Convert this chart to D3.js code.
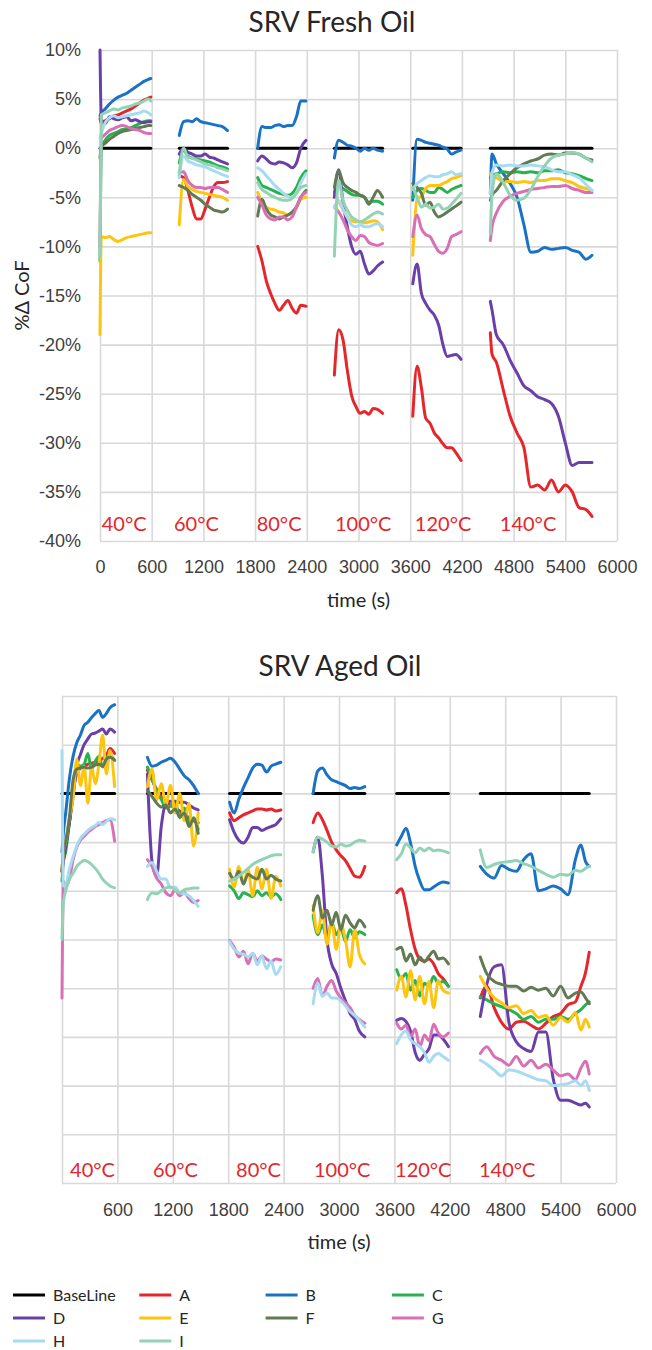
<!DOCTYPE html>
<head>
<meta charset="utf-8">
<style>
  body { margin: 0; background: #fff; }
  svg { display: block; font-family: Lato, "Open Sans", sans-serif; }
  .grid line { stroke: #d9d9d9; stroke-width: 1.6; }
  .grid text { fill: #404040; font-size: 18px; }
  .title { fill: #262626; font-size: 28px; }
  .axis-title { fill: #262626; font-size: 20px; }
  .temp { fill: #e3262b; font-size: 20px; }
  .legend text { fill: #262626; font-size: 16px; }
  .series { fill: none; stroke-width: 3; stroke-linejoin: round; stroke-linecap: round; }
</style>
</head>
<body>
<svg width="652" height="1350"></svg>
<script src="https://cdn.jsdelivr.net/npm/d3@7"></script>
<script>
// ---- data ----
const seriesNames = ['A', 'B', 'C', 'D', 'E', 'F', 'G', 'H', 'I'];
const seriesColors = ['#e5262b', '#1a72c5', '#27b24f', '#6b3fa8', '#fdc510', '#627a52', '#d970b5', '#a6dbf2', '#93d3b5'];
const baselineValue = 0;
const tempLabels = ['40°C', '60°C', '80°C', '100°C', '120°C', '140°C'];
const xTicks = [0, 600, 1200, 1800, 2400, 3000, 3600, 4200, 4800, 5400, 6000];
const yTicks = [10, 5, 0, -5, -10, -15, -20, -25, -30, -35, -40];

// fresh oil: sample times (s) per temperature step
const freshTimes = [
  [0, 15, 60, 110, 160, 210, 260, 310, 360, 410, 460, 510, 560, 590],
  [920, 970, 1020, 1070, 1120, 1170, 1220, 1270, 1320, 1370, 1420, 1480],
  [1830, 1880, 1930, 1980, 2030, 2080, 2130, 2180, 2230, 2280, 2330, 2390],
  [2720, 2770, 2820, 2870, 2920, 2970, 3020, 3070, 3120, 3170, 3220, 3280],
  [3630, 3680, 3730, 3780, 3830, 3880, 3930, 3980, 4030, 4080, 4130, 4190],
  [4530, 4550, 4600, 4680, 4760, 4840, 4920, 5000, 5080, 5160, 5240, 5320, 5400, 5480, 5560, 5640, 5710]
];
const freshTempAt = [20, 859, 1818, 2727, 3654, 4640];

const freshA = [
  [3.0, 2.5, 2.8, 3.0, 3.3, 3.4, 3.6, 3.8, 4.0, 4.3, 4.6, 4.9, 5.1, 5.2],
  [-2.8, -3.0, -4.3, -6.0, -7.2, -7.2, -6.2, -5.0, -3.9, -3.5, -3.5, -3.4],
  [-10.0, -11.5, -13.5, -14.8, -15.8, -16.5, -16.0, -15.5, -16.3, -16.8, -16.0, -16.1],
  [-23.1, -18.5, -19.5, -22.6, -25.2, -26.3, -27.0, -26.8, -27.1, -26.5, -26.6, -27.0],
  [-27.3, -22.2, -24.4, -27.5, -28.0, -29.0, -29.5, -30.1, -30.5, -30.5, -31.0, -31.8],
  [-18.8, -21.0, -21.8, -24.6, -27.3, -29.0, -30.5, -34.5, -34.3, -34.8, -33.8, -35.0, -34.3, -35.0, -36.6, -36.8, -37.5]
];
const freshB = [
  [3.3, 3.6, 4.0, 4.5, 4.9, 5.2, 5.4, 5.6, 5.9, 6.2, 6.5, 6.8, 7.0, 7.1],
  [1.3, 2.7, 2.8, 2.7, 3.0, 2.7, 2.6, 2.5, 2.4, 2.3, 2.2, 1.8],
  [0, 2.2, 2.1, 2.1, 2.3, 2.4, 2.2, 2.3, 2.3, 3.2, 4.8, 4.8],
  [-1.0, 0.8, 0.6, 0.3, 0.2, 0, -0.3, 0, -0.2, 0, -0.2, -0.3],
  [-5.3, 0.9, 0.8, 0.6, 0.5, 0.4, 0.3, 0.1, -0.1, -0.6, -0.4, -0.2],
  [-4.6, -0.6, -1.6, -2.6, -3.6, -5.0, -7.8, -10.6, -10.5, -10.1, -10.3, -10.2, -10.1, -10.4, -10.6, -11.3, -10.9]
];
const freshC = [
  [-11.5, 0, 0.8, 1.3, 1.5, 1.7, 1.9, 2.0, 2.1, 2.3, 2.5, 2.7, 2.8, 2.8],
  [-1.5, -0.2, -0.8, -1.0, -1.1, -1.2, -1.3, -1.4, -1.6, -1.8, -1.9, -2.1],
  [-3.0, -3.8, -4.0, -4.2, -4.4, -4.6, -4.7, -4.8, -4.6, -4.0, -3.0, -2.3],
  [-4.5, -3.8, -4.1, -4.4, -4.7, -4.8, -4.8, -5.0, -5.5, -5.4, -5.4, -5.7],
  [-5.0, -4.3, -4.1, -4.3, -4.5, -4.5, -4.0, -4.2, -4.5, -4.2, -4.0, -3.8],
  [-3.0, -2.8, -2.6, -2.4, -2.5, -2.4, -2.5, -2.4, -2.5, -2.3, -2.3, -2.2, -2.5, -2.6, -2.8, -3.1, -3.3]
];
const freshD = [
  [10, 3.0, 2.5, 3.2, 3.0, 2.9, 3.1, 3.2, 2.8, 2.9, 2.7, 2.6, 2.7, 2.7],
  [-0.6, 0, -0.4, -0.6, -0.8, -0.8, -0.6, -0.9, -1.0, -1.2, -1.4, -1.6],
  [-1.3, -0.8, -1.1, -1.5, -1.6, -1.4, -1.5, -1.7, -2.0, -1.5, 0, 0.8],
  [-5.0, -2.2, -5.5, -8.0, -10.0, -10.8, -10.5, -11.8, -12.8, -12.5, -12.0, -11.6],
  [-13.8, -11.8, -14.8, -15.8, -16.5, -17.0, -18.0, -20.0, -21.2, -21.1, -21.0, -21.5],
  [-15.6, -16.5, -19.0, -20.0, -21.6, -22.9, -24.2, -24.7, -25.3, -25.6, -26.0, -27.3, -30.0, -32.3, -32.0, -32.0, -32.0]
];
const freshE = [
  [-19, -9.0, -9.1, -9.0, -9.3, -9.5, -9.3, -9.1, -9.0, -8.9, -8.8, -8.7, -8.6, -8.6],
  [-7.8, -3.2, -3.9, -4.2, -4.4, -4.5, -4.6, -4.7, -4.8, -4.9, -5.0, -5.3],
  [-4.5, -5.5, -6.0, -6.2, -6.3, -6.5, -6.6, -6.8, -6.6, -6.0, -5.2, -5.0],
  [-6.0, -5.5, -6.3, -7.0, -7.4, -7.5, -7.5, -7.6, -7.5, -7.4, -7.5, -8.3],
  [-10.9, -5.1, -4.9, -4.1, -3.8, -3.8, -3.8, -3.6, -3.4, -3.1, -3.0, -2.8],
  [-2.6, -2.8, -3.0, -3.4, -3.4, -3.5, -3.4, -3.5, -3.3, -3.3, -3.1, -3.1, -3.3, -3.5, -3.9, -4.1, -4.3]
];
const freshF = [
  [-1, 0.2, 0.5, 0.9, 1.2, 1.5, 1.7, 1.8, 1.9, 2.0, 2.1, 2.2, 2.3, 2.3],
  [-3.8, -4.0, -4.3, -4.7, -5.0, -5.3, -5.7, -6.0, -6.3, -6.4, -6.5, -6.2],
  [-6.9, -5.2, -6.2, -6.8, -7.0, -7.2, -7.0, -6.8, -6.5, -6.0, -5.0, -4.3],
  [-4.0, -2.3, -3.5, -4.0, -4.3, -4.5, -4.8, -5.0, -5.7, -5.0, -4.3, -5.0],
  [-3.6, -4.0, -4.6, -5.8, -5.5, -6.5, -7.0, -6.8, -6.5, -6.2, -5.9, -5.5],
  [-5.3, -4.8, -4.3, -3.3, -2.6, -2.0, -1.6, -1.3, -1.1, -0.7, -0.6, -0.7, -0.5, -0.5, -0.6, -1.0, -1.2]
];
const freshG = [
  [-10, 1.0, 1.4, 1.8, 2.0, 2.2, 2.3, 2.2, 2.0, 1.9, 1.8, 1.6, 1.5, 1.5],
  [-2.5, -2.4, -3.3, -3.8, -4.0, -4.0, -4.1, -4.0, -4.0, -4.0, -4.2, -4.5],
  [-5.0, -5.8, -6.8, -7.2, -7.3, -7.0, -7.0, -7.3, -7.0, -6.0, -5.0, -4.5],
  [-6.0, -6.5, -7.3, -8.3, -9.0, -9.4, -8.9, -9.0, -9.6, -9.8, -9.9, -9.7],
  [-9.0, -6.8, -8.2, -8.8, -9.0, -9.8, -10.5, -10.7, -10.2, -9.0, -8.8, -8.5],
  [-9.4, -8.0, -6.6, -5.4, -4.9, -4.6, -4.4, -4.2, -4.1, -4.0, -3.9, -3.9, -3.8, -4.1, -4.3, -4.5, -4.5]
];
const freshH = [
  [1, 1.5, 2.6, 3.1, 3.3, 3.1, 3.2, 3.3, 3.4, 3.5, 3.6, 3.8, 3.6, 3.4],
  [-3.0, -0.8, -1.3, -1.5, -1.7, -1.8, -1.9, -2.1, -2.3, -2.5, -2.7, -2.9],
  [-2.0, -2.3, -2.8, -3.3, -3.8, -4.2, -4.6, -4.9, -5.0, -4.5, -3.5, -2.6],
  [-6.0, -5.3, -6.2, -7.0, -7.8, -8.0, -7.8, -8.0, -8.0, -7.8, -7.7, -8.0],
  [-4.2, -3.6, -3.3, -3.0, -2.8, -2.9, -2.9, -2.7, -2.6, -2.4, -2.7, -2.6],
  [-4.6, -2.5, -1.7, -1.8, -1.7, -1.8, -1.8, -1.7, -1.8, -1.9, -2.2, -2.4, -2.4, -2.7, -3.0, -3.7, -4.3]
];
const freshI = [
  [-11, 3.4, 3.6, 3.8, 4.0, 3.9, 4.1, 4.2, 4.3, 4.5, 4.6, 4.8, 5.0, 4.8],
  [-2.6, 0, -0.9, -1.0, -1.2, -1.4, -1.6, -1.7, -1.8, -2.0, -2.1, -2.3],
  [-3.5, -4.2, -4.5, -4.8, -5.0, -5.2, -5.3, -5.3, -5.1, -4.6, -4.0, -3.8],
  [-11.0, -3.3, -5.3, -6.3, -7.0, -7.3, -7.5, -7.3, -7.0, -6.7, -6.5, -6.7],
  [-4.0, -5.0, -6.0, -5.7, -6.1, -6.0, -5.7, -6.2, -6.1, -5.7, -5.2, -4.6],
  [-8.7, -4.6, -2.6, -3.5, -4.8, -5.3, -5.1, -4.2, -2.9, -1.8, -1.0, -0.7, -0.6, -0.4, -0.6, -1.0, -1.4]
];

// aged oil
const agedTimes = [
  [0, 15, 40, 80, 120, 160, 200, 240, 280, 320, 360, 400, 440, 480, 520, 570],
  [925, 975, 1025, 1075, 1125, 1175, 1225, 1275, 1325, 1375, 1425, 1475],
  [1815, 1865, 1915, 1965, 2015, 2065, 2115, 2165, 2215, 2265, 2315, 2370],
  [2720, 2770, 2820, 2870, 2920, 2970, 3020, 3070, 3120, 3170, 3220, 3280],
  [3625, 3675, 3725, 3775, 3825, 3875, 3925, 3975, 4025, 4075, 4125, 4185],
  [4530, 4600, 4680, 4760, 4840, 4920, 5000, 5080, 5160, 5240, 5320, 5400, 5480, 5560, 5620, 5670, 5710]
];
const agedTempAt = [87, 986, 1885, 2729, 3607, 4516];

const agedA = [
  [-8, -6, -5, -3.0, 0.2, 2.0, 2.6, 2.8, 3.0, 3.1, 3.2, 3.3, 3.6, 3.9, 4.6, 4.1],
  [2.4, 1.4, 0.4, -0.3, -0.8, -1.2, -1.5, -1.8, -2.2, -2.5, -2.8, -3.0],
  [-2.0, -2.8, -2.5, -2.2, -2.0, -1.8, -1.6, -1.6, -1.7, -1.6, -1.8, -1.7],
  [-3.0, -2.0, -2.7, -3.8, -5.0, -5.8, -6.4, -6.9, -7.7, -8.5, -8.6, -7.5],
  [-10.2, -9.8, -11.5, -14.0, -16.0, -17.0, -17.2, -17.0, -17.5, -18.5, -19.0, -19.8],
  [-21.0, -19.8, -22.0, -23.5, -24.2, -23.5, -23.4, -23.8, -24.2, -23.6, -22.9, -22.6, -21.7, -21.4, -19.8, -18.4, -16.3]
];
const agedB = [
  [-6, -4, -2.0, 1.5, 3.8, 5.2, 6.0, 7.0, 7.3, 7.8, 8.2, 8.5, 7.8, 8.2, 8.8, 9.1],
  [3.7, 2.8, 2.9, 3.2, 3.4, 3.6, 3.2, 2.5, 1.8, 1.4, 0.8, 0],
  [-0.9, -2.0, -0.6, 0.6, 1.6, 2.6, 3.0, 2.9, 2.2, 2.8, 3.0, 3.2],
  [0, 2.3, 2.6, 1.9, 1.4, 1.2, 1.0, 0.8, 0.5, 0.6, 0.5, 0.7],
  [-5.3, -4.4, -3.6, -5.1, -7.5, -9.0, -9.9, -9.9, -9.6, -9.3, -9.1, -9.2],
  [-7.5, -8.3, -8.7, -7.4, -7.8, -8.0, -6.8, -6.2, -10.0, -9.8, -9.5, -9.8, -10.4, -6.8, -5.3, -7.0, -7.5]
];
const agedC = [
  [-9, -7, -6, -3.0, 0.5, 3.0, 2.8, 3.0, 4.1, 2.5, 3.3, 3.8, 2.7, 3.6, 3.9, 3.4],
  [2.7, 1.5, 0.2, -0.6, -1.5, -1.3, -0.8, -2.5, -1.5, -3.0, -2.5, -3.7],
  [-9.5, -10.0, -10.8, -10.2, -10.4, -10.6, -10.0, -10.5, -10.2, -10.6, -10.3, -10.9],
  [-12.5, -14.5, -13.5, -15.0, -13.2, -14.5, -13.8, -15.2, -14.0, -14.8, -14.2, -14.5],
  [-18.1, -19.0, -18.5, -20.2, -19.2, -20.8, -19.5, -19.8, -18.8, -19.5, -19.3, -19.8],
  [-20.9, -21.2, -21.6, -21.9, -22.2, -22.6, -23.2, -22.9, -23.5, -23.2, -23.2, -22.9, -23.2, -22.6, -22.2, -21.7, -21.4]
];
const agedD = [
  [-8, -7, -5.5, -3.0, -0.3, 2.8, 4.0, 5.0, 5.6, 6.1, 6.2, 6.4, 6.6, 6.1, 6.6, 6.3],
  [2.0, -7.0, -8.5, -3.4, -1.0, -0.8, -0.8, -0.9, -0.9, -1.2, -1.5, -1.7],
  [-2.7, -4.0, -4.8, -5.1, -4.5, -3.5, -3.5, -3.8, -3.6, -3.4, -3.2, -2.6],
  [-6.0, -4.5, -8.5, -15.0, -17.5, -18.5, -20.0, -21.3, -22.6, -23.2, -24.4, -25.0],
  [-23.3, -23.1, -23.4, -24.4, -26.6, -27.4, -26.8, -26.2, -24.8, -24.8, -25.2, -26.0],
  [-22.9, -19.6, -17.8, -17.6, -23.5, -25.5, -26.2, -26.5, -24.5, -24.5, -29.3, -31.5, -31.5, -31.8, -32.0, -31.8, -32.2]
];
const agedE = [
  [-8, -6, -5, -2.5, -0.5, 3.5, 0.8, 2.8, -1.0, 2.8, 1.0, 3.0, 6.0, 2.0, 4.4, 0.7],
  [0.7, 2.5, -0.7, 1.0, -1.2, 0.8, -2.0, 0, -2.8, -1.0, -5.4, -2.0],
  [-7.8, -9.6, -7.5, -9.3, -7.8, -10.5, -7.6, -9.8, -7.8, -10.8, -8.5, -9.5],
  [-11.5, -14.3, -12.0, -15.5, -13.0, -16.0, -13.5, -15.0, -17.8, -14.0, -16.5, -17.5],
  [-20.2, -18.8, -20.9, -18.2, -21.2, -18.8, -21.6, -19.3, -22.0, -19.2, -20.2, -20.5],
  [-18.8, -20.0, -21.0, -21.5, -22.0, -21.8, -22.6, -22.3, -23.0, -22.8, -23.8, -23.0, -23.5, -22.5, -24.3, -23.2, -24.0]
];
const agedF = [
  [-8, -6, -5.0, -2.5, 1.4, 2.5, 2.6, 2.7, 2.6, 2.7, 2.9, 3.0, 2.8, 3.5, 3.7, 3.4],
  [0.3, -0.3, -1.0, -1.4, -1.2, -2.0, -1.6, -2.4, -2.0, -3.4, -2.6, -4.1],
  [-8.2, -8.8, -8.0, -9.3, -8.3, -8.6, -8.8, -7.8, -8.8, -8.4, -8.8, -9.0],
  [-12.0, -10.5, -12.8, -12.0, -13.5, -12.2, -14.0, -12.5, -13.3, -13.8, -13.0, -13.7],
  [-16.0, -15.8, -17.2, -16.5, -17.6, -16.8, -17.3, -16.7, -16.2, -17.0, -16.9, -17.5],
  [-16.8, -18.5, -19.3, -19.6, -19.8, -19.8, -20.3, -19.9, -20.2, -20.0, -20.8, -19.8, -21.0, -20.5, -20.4, -21.0, -21.6]
];
const agedG = [
  [-21, -9, -9.5, -8.8, -6.8, -5.5, -4.8, -4.4, -4.0, -3.7, -3.4, -3.2, -3.0, -2.8, -2.7, -4.9],
  [-6.8, -7.5, -8.7, -9.3, -10.2, -10.5, -9.9, -10.5, -10.2, -10.8, -11.2, -11.0],
  [-15.1, -15.8, -16.8, -16.2, -17.5, -16.4, -17.2, -16.7, -17.0, -17.3, -17.0, -17.1],
  [-20.0, -19.0, -20.8, -19.8, -19.2, -20.3, -21.0, -21.5, -22.0, -22.8, -23.2, -23.6],
  [-23.6, -24.2, -23.8, -25.0, -24.2, -26.0, -24.8, -25.4, -23.7, -24.6, -25.0, -24.6],
  [-26.7, -26.0, -27.0, -27.4, -27.9, -27.0, -28.0, -27.4, -28.2, -27.8, -28.4, -29.0, -28.8, -29.4, -28.2, -27.5, -28.8]
];
const agedH = [
  [4.4, -9.5, -9.5, -7.8, -6.5, -5.4, -4.6, -4.2, -3.8, -3.5, -3.3, -3.0, -3.2, -2.9, -2.6, -2.7],
  [-7.5, -7.1, -8.0, -8.8, -8.8, -9.7, -9.6, -10.2, -10.3, -10.5, -11.0, -11.6],
  [-15.2, -16.0, -16.4, -16.5, -16.8, -16.4, -17.6, -16.7, -18.0, -17.2, -18.6, -17.8],
  [-21.6, -19.5, -20.8, -20.5, -21.0, -21.0, -21.3, -21.8, -22.4, -22.8, -23.3, -24.0],
  [-25.7, -24.8, -24.4, -25.3, -25.7, -26.0, -26.6, -27.6, -27.0, -26.7, -27.0, -27.4],
  [-27.4, -27.8, -28.4, -29.0, -28.4, -28.5, -28.8, -29.1, -29.4, -29.5, -30.0, -29.9, -29.8, -29.5, -30.0, -29.5, -30.5]
];
const agedI = [
  [-15, -11.2, -10.0, -8.8, -8.2, -7.5, -7.1, -6.9, -7.0, -7.3, -7.7, -8.2, -8.8, -9.2, -9.5, -9.7],
  [-10.9, -10.2, -10.3, -10.0, -9.7, -9.6, -9.9, -10.2, -9.9, -9.8, -9.7, -9.7],
  [-9.0, -8.8, -8.5, -8.1, -7.7, -7.3, -7.0, -6.8, -6.6, -6.4, -6.3, -6.3],
  [-6.0, -4.5, -4.7, -5.0, -5.4, -5.5, -5.2, -5.4, -5.3, -5.0, -4.8, -4.9],
  [-6.8, -6.2, -5.2, -5.6, -6.1, -5.6, -5.9, -5.6, -5.9, -5.8, -5.9, -6.1],
  [-5.8, -7.6, -7.3, -7.1, -7.0, -6.9, -7.2, -7.5, -7.9, -8.3, -8.6, -8.3, -8.4, -7.9, -8.0, -7.7, -7.5]
];

// ---- drawing ----
var svg = d3.select("svg");

var charts = [
  { title: "SRV Fresh Oil", titleX: 332, titleY: 32,
    left: 100, right: 617, top: 50, bottom: 541,
    yLabels: true, zeroLabel: true, xPad: 19, axisTitleY: 607, tempY: 531,
    times: freshTimes, tempAt: freshTempAt,
    series: [freshA, freshB, freshC, freshD, freshE, freshF, freshG, freshH, freshI] },
  { title: "SRV Aged Oil", titleX: 340, titleY: 676,
    left: 62, right: 616, top: 696, bottom: 1183,
    yLabels: false, zeroLabel: false, xPad: 20, axisTitleY: 1249, tempY: 1177,
    times: agedTimes, tempAt: agedTempAt,
    series: [agedA, agedB, agedC, agedD, agedE, agedF, agedG, agedH, agedI] }
];

charts.forEach(drawChart);

function drawChart(cfg) {
    var x = d3.scaleLinear().domain([0, 6000]).range([cfg.left, cfg.right]);
    var y = d3.scaleLinear().domain([-40, 10]).range([cfg.bottom, cfg.top]);
    var g = svg.append("g");

    g.append("text")
        .attr("class", "title")
        .attr("x", cfg.titleX)
        .attr("y", cfg.titleY)
        .attr("text-anchor", "middle")
        .text(cfg.title);

    var xAxis = d3.axisBottom(x)
        .tickValues(xTicks)
        .tickSize(-(cfg.bottom - cfg.top))
        .tickPadding(cfg.xPad)
        .tickFormat(function(d) { return (d === 0 && !cfg.zeroLabel) ? "" : d; });
    g.append("g")
        .attr("class", "grid")
        .attr("transform", "translate(0," + cfg.bottom + ")")
        .call(xAxis);

    var yAxis = d3.axisLeft(y)
        .tickValues(yTicks)
        .tickSize(-(cfg.right - cfg.left))
        .tickPadding(19)
        .tickFormat(function(d) { return cfg.yLabels ? d + "%" : ""; });
    g.append("g")
        .attr("class", "grid")
        .attr("transform", "translate(" + cfg.left + ",0)")
        .call(yAxis);

    g.selectAll(".domain").remove();

    g.append("text")
        .attr("class", "axis-title")
        .attr("x", (cfg.left + cfg.right) / 2)
        .attr("y", cfg.axisTitleY)
        .attr("text-anchor", "middle")
        .text("time (s)");

    if (cfg.yLabels) {
        g.append("text")
            .attr("class", "axis-title")
            .attr("transform", "translate(29," + (cfg.top + cfg.bottom) / 2 + ") rotate(-90)")
            .attr("text-anchor", "middle")
            .text("%Δ CoF");
    }

    var line = d3.line()
        .x(function(d) { return x(d[0]); })
        .y(function(d) { return y(d[1]); })
        .curve(d3.curveMonotoneX);

    // baseline segments
    cfg.times.forEach(function(ts) {
        g.append("path")
            .attr("class", "series")
            .attr("stroke", "#000")
            .attr("d", line([[ts[0], baselineValue], [ts[ts.length - 1], baselineValue]]));
    });

    cfg.series.forEach(function(segs, k) {
        segs.forEach(function(vals, si) {
            var pts = vals.map(function(v, i) { return [cfg.times[si][i], v]; });
            g.append("path")
                .attr("class", "series")
                .attr("stroke", seriesColors[k])
                .attr("d", line(pts));
        });
    });

    g.selectAll(".temp")
        .data(tempLabels)
        .enter().append("text")
        .attr("class", "temp")
        .attr("x", function(d, i) { return x(cfg.tempAt[i]); })
        .attr("y", cfg.tempY)
        .text(function(d) { return d; });
}

// legend
var legendItems = [{ name: "BaseLine", color: "#000" }].concat(
    seriesNames.map(function(n, i) { return { name: n, color: seriesColors[i] }; }));

var legend = svg.append("g")
    .attr("class", "legend")
    .selectAll("g")
    .data(legendItems)
    .enter().append("g")
    .attr("transform", function(d, i) {
        return "translate(" + (13 + (i % 4) * 126.3) + "," + (1295 + Math.floor(i / 4) * 23) + ")";
    });

legend.append("line")
    .attr("x1", 0).attr("x2", 32)
    .attr("stroke", function(d) { return d.color; })
    .attr("stroke-width", 3);

legend.append("text")
    .attr("x", 40)
    .attr("dy", "0.36em")
    .text(function(d) { return d.name; });
</script>
</body>
